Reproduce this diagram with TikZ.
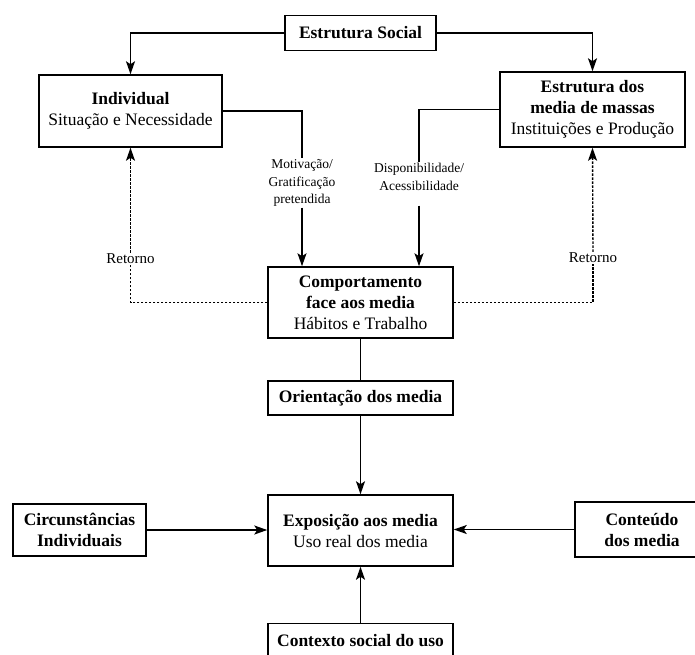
\documentclass[tikz,border=0pt]{standalone}
\usepackage{fontspec}
\setmainfont{Liberation Serif}
\usetikzlibrary{arrows.meta}

\begin{document}
\begin{tikzpicture}[x=1pt,y=-1pt]
    \tikzstyle{box}=[draw=black,line width=1.5pt,align=center,inner sep=2pt,font=\fontsize{17.5}{21}\selectfont]
    \tikzstyle{lbl}=[align=center,inner sep=1pt,font=\fontsize{13.5}{17.5}\selectfont]
    \tikzstyle{seg}=[draw=black, line width=1.6pt]
    \tikzstyle{fwd}=[draw=black, line width=1.6pt, -{Stealth[length=13pt,width=9pt,inset=3pt]}]
    \tikzstyle{ret}=[draw=black, line width=1.4pt, dash pattern=on 2.5pt off 1.5pt]
    \tikzstyle{back}=[ret, -{Stealth[length=13pt,width=9pt,inset=3pt]}]

    \def\bw{185pt}
    \def\bh{71pt}
    \def\sh{35pt}

    \useasboundingbox (0,0) rectangle (695,654);
    \clip (0,0) rectangle (695,654);

    % top row
    \node[box, minimum width=151pt, minimum height=\sh] (social) at (360.5,33) {\textbf{Estrutura Social}};
    \node[box, minimum width=183pt, minimum height=72pt] (indiv) at (130.5,111) {\textbf{Individual}\\Situação e Necessidade};
    \node[box, minimum width=\bw, minimum height=75pt] (estr) at (592.5,109.5) {\textbf{Estrutura dos}\\\textbf{media de massas}\\Instituições e Produção};

    \node[lbl] (motiv) at (302,183) {Motivação/\\Gratificação\\pretendida};
    \node[lbl] (disp) at (419,177) {Disponibilidade/\\Acessibilidade};

    % middle column
    \node[box, minimum width=\bw, minimum height=\bh] (comp) at (360.5,302.5) {\textbf{Comportamento}\\\textbf{face aos media}\\Hábitos e Trabalho};
    \node[box, minimum width=\bw, minimum height=34pt] (orient) at (360.5,398) {\textbf{Orientação dos media}};
    \node[box, minimum width=\bw, minimum height=\bh] (expo) at (360.5,530.5) {\textbf{Exposição aos media}\\Uso real dos media};
    \node[box, minimum width=\bw, minimum height=\sh] (ctx) at (360.5,641) {\textbf{Contexto social do uso}};

    \node[box, minimum width=133pt, minimum height=52pt] (circ) at (79.5,530) {\textbf{Circunstâncias}\\\textbf{Individuais}};
    \node[box, minimum width=134pt, minimum height=55pt] (cont) at (642,529.5) {\textbf{Conteúdo}\\\textbf{dos media}};

    \node[lbl, font=\fontsize{15}{18}\selectfont] (retL) at (130.5,259) {Retorno};
    \node[lbl, font=\fontsize{15}{18}\selectfont] (retR) at (593,258) {Retorno};

   \draw [fwd] (social.west) -| (indiv.north);
   \draw [fwd] (social.east) -| (estr.north);

   \draw [seg] (indiv.east) -| (motiv.north);
   \draw [fwd] (motiv.south) -- (motiv.south |- comp.north);
   \draw [seg] (estr.west) -| (disp.north);
   \draw [fwd] ([yshift=-14pt]disp.south) -- (disp.south |- comp.north);

   \draw [ret] (comp.west) -| (retL.south);
   \draw [back] (retL.north) -- (indiv.south);
   \draw [ret] (comp.east) -| (retR.south);
   \draw [back] (retR.north) -- (estr.south);

   \draw [seg] (comp.south) -- (orient.north);
   \draw [fwd] (orient.south) -- (expo.north);
   \draw [fwd] (circ.east) -- (circ.east -| expo.west);
   \draw [fwd] (cont.west) -- (cont.west -| expo.east);
   \draw [fwd] (ctx.north) -- (expo.south);

\end{tikzpicture}
\end{document}
